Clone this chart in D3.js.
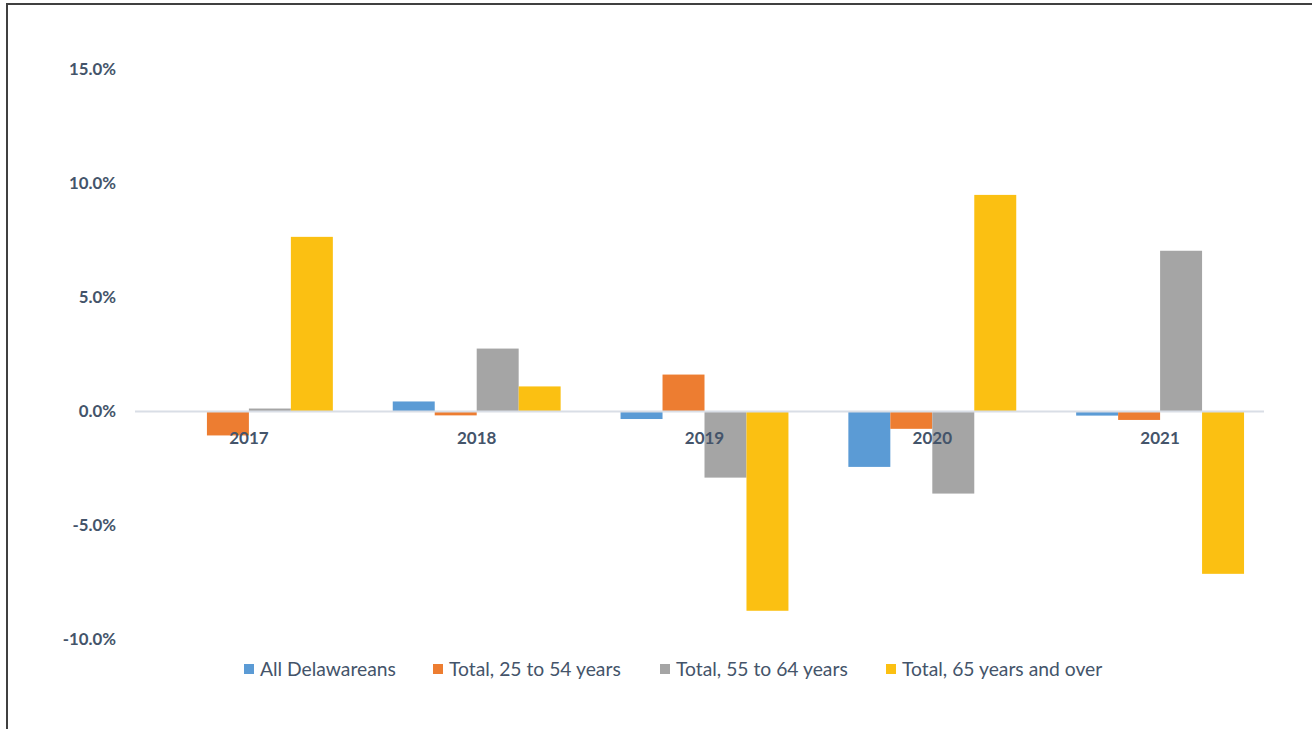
<!DOCTYPE html>
<html>
<head>
<meta charset="utf-8">
<script src="https://cdn.jsdelivr.net/npm/d3@7"></script>
<style>
  body { margin: 0; background: #fff; }
  svg { display: block; font-family: Lato, "Open Sans", sans-serif; }
</style>
</head>
<body>
<svg id="vis-svg" width="1312" height="729"></svg>
<script>
var width  = 1312;
var height = 729;

// data (percent change)
const years = ["2017", "2018", "2019", "2020", "2021"];
const seriesNames = ["All Delawareans", "Total, 25 to 54 years", "Total, 55 to 64 years", "Total, 65 years and over"];
const allDelawareans = [0.0, 0.44, -0.33, -2.43, -0.18];
const age25to54 = [-1.05, -0.17, 1.62, -0.76, -0.37];
const age55to64 = [0.13, 2.76, -2.9, -3.6, 7.05];
const age65plus = [7.66, 1.1, -8.74, 9.5, -7.12];
const yTicks = [-10, -5, 0, 5, 10, 15];
const colors = ["#5B9BD5", "#ED7D31", "#A5A5A5", "#FBC012"];

const values = [allDelawareans, age25to54, age55to64, age65plus];
const textColor = "#44546A";

const svg = d3.select("#vis-svg");

// frame
svg.append("rect")
  .attr("x", 7).attr("y", 4)
  .attr("width", width + 20).attr("height", height + 20)
  .attr("fill", "none").attr("stroke", "#404040").attr("stroke-width", 2);

const x0 = d3.scaleBand()
  .domain(years)
  .range([135, 1274])
  .paddingInner(0.263)
  .paddingOuter(0.1315);

const x1 = d3.scaleBand()
  .domain(d3.range(seriesNames.length))
  .range([0, x0.bandwidth()]);

const y = d3.scaleLinear()
  .domain([-10, 15])
  .range([639.5, 69.5]);

// y tick labels
svg.append("g").selectAll("text")
  .data(yTicks)
  .enter().append("text")
  .attr("x", 116)
  .attr("y", d => y(d))
  .attr("dy", "0.35em")
  .attr("text-anchor", "end")
  .attr("fill", textColor)
  .attr("font-weight", "bold")
  .attr("font-size", 16.8)
  .text(d => d.toFixed(1) + "%");

// bars
const groups = svg.append("g").selectAll("g")
  .data(years)
  .enter().append("g")
  .attr("transform", d => "translate(" + x0(d) + ",0)");

groups.selectAll("rect")
  .data((d, i) => values.map((s, k) => ({ k: k, v: s[i] })))
  .enter().append("rect")
  .attr("x", d => x1(d.k))
  .attr("width", x1.bandwidth())
  .attr("y", d => y(Math.max(0, d.v)))
  .attr("height", d => Math.abs(y(d.v) - y(0)))
  .attr("fill", d => colors[d.k]);

// zero line
svg.append("line")
  .attr("x1", x0.range()[0]).attr("x2", x0.range()[1] - 10)
  .attr("y1", y(0)).attr("y2", y(0))
  .attr("stroke", "#D9DEE6").attr("stroke-width", 2);

// category labels
svg.append("g").selectAll("text")
  .data(years)
  .enter().append("text")
  .attr("x", d => x0(d) + x0.bandwidth() / 2)
  .attr("y", y(0) + 27)
  .attr("dy", "0.35em")
  .attr("text-anchor", "middle")
  .attr("fill", textColor)
  .attr("font-weight", "bold")
  .attr("font-size", 17)
  .text(d => d);

// legend
const legendX = [244, 433, 660, 886];
const legend = svg.append("g").selectAll("g")
  .data(seriesNames)
  .enter().append("g")
  .attr("transform", (d, i) => "translate(" + legendX[i] + ",664)");

legend.append("rect")
  .attr("width", 10).attr("height", 10)
  .attr("fill", (d, i) => colors[i]);

legend.append("text")
  .attr("x", 16).attr("y", 5)
  .attr("dy", "0.35em")
  .attr("fill", textColor)
  .attr("font-size", 19.3)
  .text(d => d);
</script>
</body>
</html>
